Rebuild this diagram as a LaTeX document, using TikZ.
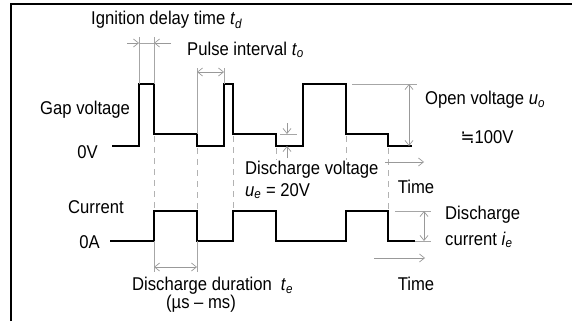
\documentclass[tikz,border=0pt]{standalone}
\usepackage{fontspec}
\setmainfont{Liberation Sans}[FakeStretch=0.90]
\newfontfamily\djv{DejaVu Sans}[FakeStretch=0.90]
\usetikzlibrary{arrows.meta}
\newcommand\ssub[2]{\textit{#1}\textsubscript{\textit{#2}}}
\begin{document}
\begin{tikzpicture}[x=1pt,y=-1pt,
  wave/.style={line width=1.7pt, line join=miter},
  guide/.style={draw=black!35, line width=0.7pt},
  dashln/.style={draw=black!30, line width=0.7pt, dash pattern=on 6pt off 5pt},
  dim/.style={draw=black!40, line width=0.7pt, -{Straight Barb[length=5pt,width=8pt]}},
  dimboth/.style={draw=black!40, line width=0.7pt, {Straight Barb[length=5pt,width=8pt]}-{Straight Barb[length=5pt,width=8pt]}},
  lbl/.style={font=\fontsize{18.5}{20}\selectfont, inner sep=0pt, text=black}]
\useasboundingbox (0,0) rectangle (572,321);
\draw[line width=2pt] (11,321) -- (11,4) -- (572,4);

% waveforms
\draw[wave] (112,146) -- (139,146) -- (139,84) -- (154,84) -- (154,134) -- (197,134) -- (197,146) -- (224,146) -- (224,84) -- (233,84) -- (233,134) -- (276,134) -- (276,146) -- (303,146) -- (303,84) -- (346,84) -- (346,134) -- (388,134) -- (388,146) -- (412,146);
\draw[wave] (110,241) -- (154,241) -- (154,211) -- (197,211) -- (197,241) -- (233,241) -- (233,211) -- (276,211) -- (276,241) -- (346,241) -- (346,211) -- (388,211) -- (388,241) -- (415,241);

% coordinates
\coordinate (ig1) at (139,43); \coordinate (ig2) at (154,43);
\coordinate (ig0) at (127,43); \coordinate (ig3) at (171,43);
\coordinate (pi1) at (197,72); \coordinate (pi2) at (224,72);
\coordinate (dv0) at (287,123); \coordinate (dv1) at (287,134);
\coordinate (dv2) at (287,146); \coordinate (dv3) at (287,158);
\coordinate (ov1) at (409,84); \coordinate (ov2) at (409,146);
\coordinate (dc1) at (424,211); \coordinate (dc2) at (424,241);
\coordinate (dd1) at (154,267); \coordinate (dd2) at (197,267);
\coordinate (ta1) at (385,162); \coordinate (ta2) at (424,162);
\coordinate (tb1) at (374,258); \coordinate (tb2) at (425,258);

% guide lines
\draw[guide] (139,37) -- (139,84);
\draw[guide] (154,37) -- (154,84);
\draw[guide] (197,68) -- (197,134);
\draw[guide] (224,68) -- (224,84);
\draw[guide] (280,134) -- (297,134);
\draw[guide] (352,84) -- (417,84);
\draw[guide] (395,211) -- (431,211);
\draw[guide] (415,241) -- (431,241);
\draw[guide] (154,241) -- (154,272);
\draw[guide] (197,241) -- (197,272);

% dashed links
\draw[dashln] (154,136) -- (154,211);
\draw[dashln] (197,148) -- (197,211);
\draw[dashln] (233,136) -- (233,211);
\draw[dashln] (276,148) -- (276,160);
\draw[dashln] (346,136) -- (346,160);
\draw[dashln] (388,148) -- (388,211);

% dimension arrows
\draw[guide] (ig1) -- (ig2);
\draw[dim] (ig0) -- (ig1);
\draw[dim] (ig3) -- (ig2);
\draw[dimboth] (pi1) -- (pi2);
\draw[dim] (dv0) -- (dv1);
\draw[dim] (dv3) -- (dv2);
\draw[dimboth] (ov1) -- (ov2);
\draw[dimboth] (dc1) -- (dc2);
\draw[dimboth] (dd1) -- (dd2);
\draw[dim] (ta1) -- (ta2);
\draw[dim] (tb1) -- (tb2);

% labels
\node[lbl, anchor=west] (lig) at (91,20) {Ignition delay time \ssub{t}{d}};
\node[lbl, anchor=west] (lpi) at (187,50) {Pulse interval \ssub{t}{o}};
\node[lbl, anchor=west] (lgv) at (40,110) {Gap voltage};
\node[lbl, anchor=east] (l0v) at (98,152) {0V};
\node[lbl, anchor=west] (lov) at (425,100) {Open voltage \ssub{u}{o}};
\node[lbl] (l100) at (487,137) {{\djv ≒}100V};
\node[lbl, anchor=west] (ldv) at (245,170) {Discharge voltage};
\node[lbl, anchor=west] (lue) at (245,191) {\ssub{u}{e} = 20V};
\node[lbl] (lt1) at (416,187) {Time};
\node[lbl, anchor=west] (lcur) at (68,207) {Current};
\node[lbl, anchor=east] (l0a) at (100,242) {0A};
\node[lbl, anchor=west] (ldc) at (445,215) {Discharge};
\node[lbl, anchor=west] (ldc2) at (445,240) {current \ssub{i}{e}};
\node[lbl] (lt2) at (416,284) {Time};
\node[lbl, anchor=west] (ldd) at (132,286) {Discharge duration\hspace{9pt}\ssub{t}{e}};
\node[lbl] (lus) at (201,304) {(µs – ms)};
\end{tikzpicture}
\end{document}
